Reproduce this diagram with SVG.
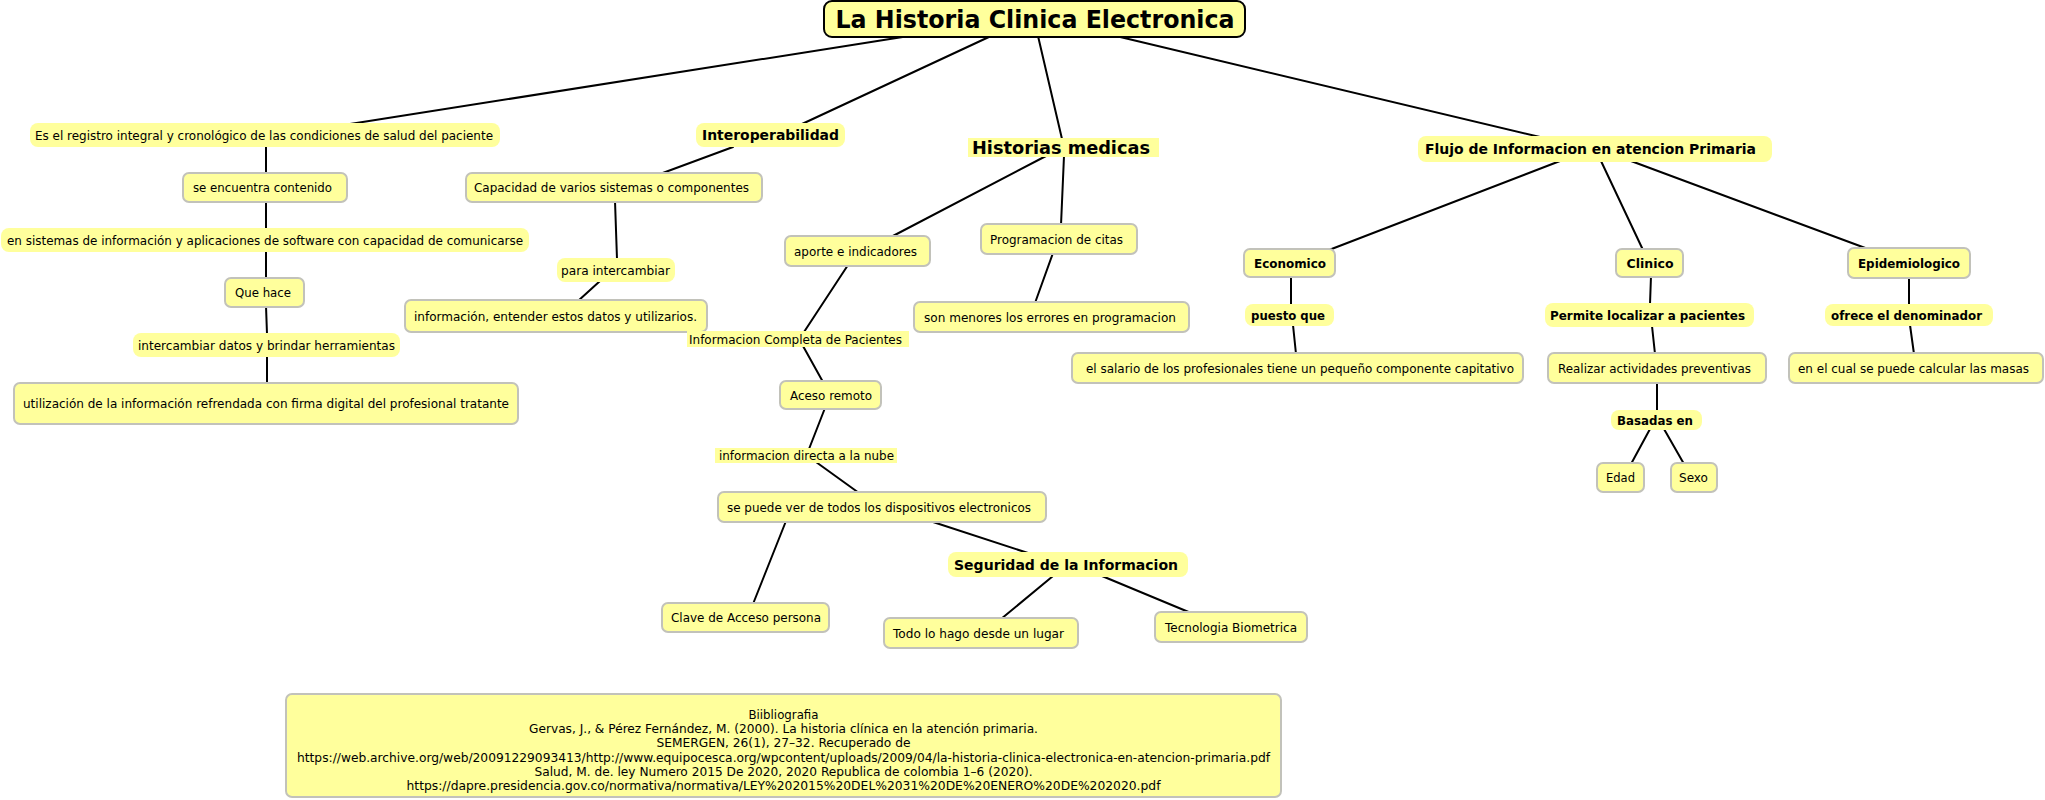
<svg xmlns="http://www.w3.org/2000/svg" width="2045" height="800" viewBox="0 0 2045 800">
<style>
.bg{fill:#ffffff}
.c{fill:#ffff9c;stroke:#c2c2ba;stroke-width:2}
.l{fill:#ffff9c}
.r{fill:#ffff9c;stroke:#000;stroke-width:2}
.e{stroke:#000;stroke-width:2;fill:none;stroke-linecap:round}
text{font-family:"DejaVu Sans",Verdana,"Liberation Sans",sans-serif;font-size:12px;fill:#000;text-anchor:middle}
.b{font-weight:bold}
.b14{font-weight:bold;font-size:14px}
.b18{font-weight:bold;font-size:18px}
.b24{font-weight:bold;font-size:24px}
</style>
<rect class="bg" x="0" y="0" width="2045" height="800"/>
<g id="connectors">
<line class="e" x1="909" y1="36" x2="350" y2="124"/>
<line class="e" x1="991" y1="36" x2="802" y2="124"/>
<line class="e" x1="1038" y1="36" x2="1062" y2="139"/>
<line class="e" x1="1116" y1="36" x2="1540" y2="137"/>
<line class="e" x1="733" y1="147" x2="660" y2="174"/>
<line class="e" x1="615" y1="201" x2="617" y2="259"/>
<line class="e" x1="600" y1="281" x2="578" y2="301"/>
<line class="e" x1="266" y1="146" x2="266" y2="174"/>
<line class="e" x1="266" y1="201" x2="266" y2="229"/>
<line class="e" x1="266" y1="251" x2="266" y2="279"/>
<line class="e" x1="266" y1="306" x2="267" y2="334"/>
<line class="e" x1="267" y1="356" x2="267" y2="384"/>
<line class="e" x1="1046" y1="156" x2="891" y2="237"/>
<line class="e" x1="1064" y1="156" x2="1061" y2="225"/>
<line class="e" x1="1053" y1="253" x2="1035" y2="303"/>
<line class="e" x1="848" y1="265" x2="804" y2="332"/>
<line class="e" x1="803" y1="346" x2="823" y2="382"/>
<line class="e" x1="825" y1="408" x2="809" y2="449"/>
<line class="e" x1="816" y1="462" x2="859" y2="493"/>
<line class="e" x1="786" y1="521" x2="753" y2="604"/>
<line class="e" x1="930" y1="521" x2="1028" y2="553"/>
<line class="e" x1="1053" y1="576" x2="1001" y2="619"/>
<line class="e" x1="1102" y1="576" x2="1191" y2="613"/>
<line class="e" x1="1560" y1="161" x2="1329" y2="250"/>
<line class="e" x1="1601" y1="161" x2="1643" y2="250"/>
<line class="e" x1="1631" y1="161" x2="1868" y2="249"/>
<line class="e" x1="1291" y1="276" x2="1291" y2="305"/>
<line class="e" x1="1293" y1="325" x2="1296" y2="354"/>
<line class="e" x1="1651" y1="276" x2="1650" y2="304"/>
<line class="e" x1="1652" y1="326" x2="1655" y2="354"/>
<line class="e" x1="1657" y1="382" x2="1657" y2="411"/>
<line class="e" x1="1650" y1="429" x2="1631" y2="464"/>
<line class="e" x1="1664" y1="429" x2="1684" y2="464"/>
<line class="e" x1="1909" y1="277" x2="1909" y2="305"/>
<line class="e" x1="1910" y1="325" x2="1914" y2="354"/>
</g>
<g id="root"><rect class="r" x="824" y="1" width="421" height="36" rx="8"/><text class="b24" x="1035" y="28" textLength="399" lengthAdjust="spacingAndGlyphs">La Historia Clinica Electronica</text></g>
<g id="l_registro"><rect class="l" x="30" y="123" width="470" height="24" rx="8"/><text x="264" y="139.5" textLength="458" lengthAdjust="spacingAndGlyphs">Es el registro integral y cronológico de las condiciones de salud del paciente</text></g>
<g id="n_contenido"><rect class="c" x="183" y="173" width="164" height="29" rx="6"/><text x="262.5" y="192" textLength="139" lengthAdjust="spacingAndGlyphs">se encuentra contenido</text></g>
<g id="l_sistemas"><rect class="l" x="1" y="228" width="528" height="24" rx="8"/><text x="265" y="244.5" textLength="516" lengthAdjust="spacingAndGlyphs">en sistemas de información y aplicaciones de software con capacidad de comunicarse</text></g>
<g id="n_quehace"><rect class="c" x="225" y="278" width="79" height="29" rx="6"/><text x="263" y="297" textLength="56" lengthAdjust="spacingAndGlyphs">Que hace</text></g>
<g id="l_intercambiar"><rect class="l" x="133" y="333" width="267" height="24" rx="8"/><text x="266.5" y="349.5" textLength="257" lengthAdjust="spacingAndGlyphs">intercambiar datos y brindar herramientas</text></g>
<g id="n_utilizacion"><rect class="c" x="14" y="383" width="504" height="41" rx="6"/><text x="266" y="408" textLength="486" lengthAdjust="spacingAndGlyphs">utilización de la información refrendada con firma digital del profesional tratante</text></g>
<g id="l_interop"><rect class="l" x="696" y="123" width="149" height="24" rx="8"/><text class="b14" x="770.5" y="140" textLength="137" lengthAdjust="spacingAndGlyphs">Interoperabilidad</text></g>
<g id="n_capacidad"><rect class="c" x="466" y="173" width="296" height="29" rx="6"/><text x="611.5" y="192" textLength="275" lengthAdjust="spacingAndGlyphs">Capacidad de varios sistemas o componentes</text></g>
<g id="l_para"><rect class="l" x="557" y="258" width="118" height="24" rx="8"/><text x="615.5" y="274.5" textLength="109" lengthAdjust="spacingAndGlyphs">para intercambiar</text></g>
<g id="n_informacion"><rect class="c" x="405" y="300" width="302" height="32" rx="6"/><text x="555.5" y="320.5" textLength="283" lengthAdjust="spacingAndGlyphs">información, entender estos datos y utilizarios.</text></g>
<g id="l_historias"><rect class="l" x="968" y="138" width="191" height="19"/><text class="b18" x="1061" y="153.5" textLength="178" lengthAdjust="spacingAndGlyphs">Historias medicas</text></g>
<g id="n_aporte"><rect class="c" x="785" y="236" width="145" height="30" rx="6"/><text x="855.5" y="255.5" textLength="123" lengthAdjust="spacingAndGlyphs">aporte e indicadores</text></g>
<g id="n_programacion"><rect class="c" x="981" y="224" width="156" height="30" rx="6"/><text x="1056.5" y="243.5" textLength="133" lengthAdjust="spacingAndGlyphs">Programacion de citas</text></g>
<g id="n_menores"><rect class="c" x="914" y="302" width="275" height="30" rx="6"/><text x="1050" y="321.5" textLength="252" lengthAdjust="spacingAndGlyphs">son menores los errores en programacion</text></g>
<g id="l_completa"><rect class="l" x="687" y="331" width="222" height="16"/><text x="795.5" y="343.5" textLength="213" lengthAdjust="spacingAndGlyphs">Informacion Completa de Pacientes</text></g>
<g id="n_aceso"><rect class="c" x="780" y="381" width="101" height="28" rx="6"/><text x="831" y="399.5" textLength="82" lengthAdjust="spacingAndGlyphs">Aceso remoto</text></g>
<g id="l_directa"><rect class="l" x="715" y="448" width="182" height="15"/><text x="806.5" y="460" textLength="175" lengthAdjust="spacingAndGlyphs">informacion directa a la nube</text></g>
<g id="n_sepuede"><rect class="c" x="718" y="492" width="328" height="30" rx="6"/><text x="879" y="511.5" textLength="304" lengthAdjust="spacingAndGlyphs">se puede ver de todos los dispositivos electronicos</text></g>
<g id="l_seguridad"><rect class="l" x="948" y="552" width="240" height="25" rx="8"/><text class="b14" x="1066" y="569.5" textLength="224" lengthAdjust="spacingAndGlyphs">Seguridad de la Informacion</text></g>
<g id="n_clave"><rect class="c" x="662" y="603" width="167" height="29" rx="6"/><text x="746" y="622" textLength="150" lengthAdjust="spacingAndGlyphs">Clave de Acceso persona</text></g>
<g id="n_todo"><rect class="c" x="884" y="618" width="194" height="30" rx="6"/><text x="978.5" y="637.5" textLength="171" lengthAdjust="spacingAndGlyphs">Todo lo hago desde un lugar</text></g>
<g id="n_tecno"><rect class="c" x="1155" y="612" width="152" height="30" rx="6"/><text x="1231" y="631.5" textLength="132" lengthAdjust="spacingAndGlyphs">Tecnologia Biometrica</text></g>
<g id="l_flujo"><rect class="l" x="1418" y="136" width="354" height="26" rx="8"/><text class="b14" x="1590.5" y="154" textLength="331" lengthAdjust="spacingAndGlyphs">Flujo de Informacion en atencion Primaria</text></g>
<g id="n_economico"><rect class="c" x="1244" y="249" width="91" height="28" rx="6"/><text class="b" x="1290" y="267.5" textLength="72" lengthAdjust="spacingAndGlyphs">Economico</text></g>
<g id="l_puesto"><rect class="l" x="1245" y="304" width="89" height="22" rx="8"/><text class="b" x="1288" y="319.5" textLength="74" lengthAdjust="spacingAndGlyphs">puesto que</text></g>
<g id="n_salario"><rect class="c" x="1072" y="353" width="451" height="30" rx="6"/><text x="1300" y="372.5" textLength="428" lengthAdjust="spacingAndGlyphs">el salario de los profesionales tiene un pequeño componente capitativo</text></g>
<g id="n_clinico"><rect class="c" x="1616" y="249" width="67" height="28" rx="6"/><text class="b" x="1650" y="267.5" textLength="47" lengthAdjust="spacingAndGlyphs">Clinico</text></g>
<g id="l_permite"><rect class="l" x="1545" y="303" width="209" height="24" rx="8"/><text class="b" x="1647.5" y="319.5" textLength="195" lengthAdjust="spacingAndGlyphs">Permite localizar a pacientes</text></g>
<g id="n_realizar"><rect class="c" x="1548" y="353" width="218" height="30" rx="6"/><text x="1654.5" y="372.5" textLength="193" lengthAdjust="spacingAndGlyphs">Realizar actividades preventivas</text></g>
<g id="l_basadas"><rect class="l" x="1611" y="410" width="91" height="20" rx="8"/><text class="b" x="1655" y="424.5" textLength="76" lengthAdjust="spacingAndGlyphs">Basadas en</text></g>
<g id="n_edad"><rect class="c" x="1597" y="463" width="47" height="29" rx="6"/><text x="1620.5" y="482" textLength="29" lengthAdjust="spacingAndGlyphs">Edad</text></g>
<g id="n_sexo"><rect class="c" x="1671" y="463" width="46" height="29" rx="6"/><text x="1693.5" y="482" textLength="29" lengthAdjust="spacingAndGlyphs">Sexo</text></g>
<g id="n_epidem"><rect class="c" x="1848" y="248" width="122" height="30" rx="6"/><text class="b" x="1909" y="267.5" textLength="102" lengthAdjust="spacingAndGlyphs">Epidemiologico</text></g>
<g id="l_ofrece"><rect class="l" x="1825" y="304" width="168" height="22" rx="8"/><text class="b" x="1906.5" y="319.5" textLength="151" lengthAdjust="spacingAndGlyphs">ofrece el denominador</text></g>
<g id="n_encual"><rect class="c" x="1789" y="353" width="254" height="30" rx="6"/><text x="1913.5" y="372.5" textLength="231" lengthAdjust="spacingAndGlyphs">en el cual se puede calcular las masas</text></g>
<g id="n_biblio"><rect class="c" x="286" y="694" width="995" height="103" rx="6"/>
<text x="783.5" y="719" textLength="70" lengthAdjust="spacingAndGlyphs">Biibliografia</text>
<text x="783.5" y="733" textLength="509" lengthAdjust="spacingAndGlyphs">Gervas, J., &amp; Pérez Fernández, M. (2000). La historia clínica en la atención primaria.</text>
<text x="783.5" y="747" textLength="254" lengthAdjust="spacingAndGlyphs">SEMERGEN, 26(1), 27–32. Recuperado de</text>
<text x="783.5" y="762" textLength="973" lengthAdjust="spacingAndGlyphs">https://web.archive.org/web/20091229093413/http://www.equipocesca.org/wpcontent/uploads/2009/04/la-historia-clinica-electronica-en-atencion-primaria.pdf</text>
<text x="783.5" y="776" textLength="498" lengthAdjust="spacingAndGlyphs">Salud, M. de. ley Numero 2015 De 2020, 2020 Republica de colombia 1–6 (2020).</text>
<text x="783.5" y="790" textLength="754" lengthAdjust="spacingAndGlyphs">https://dapre.presidencia.gov.co/normativa/normativa/LEY%202015%20DEL%2031%20DE%20ENERO%20DE%202020.pdf</text>
</g>
</svg>
